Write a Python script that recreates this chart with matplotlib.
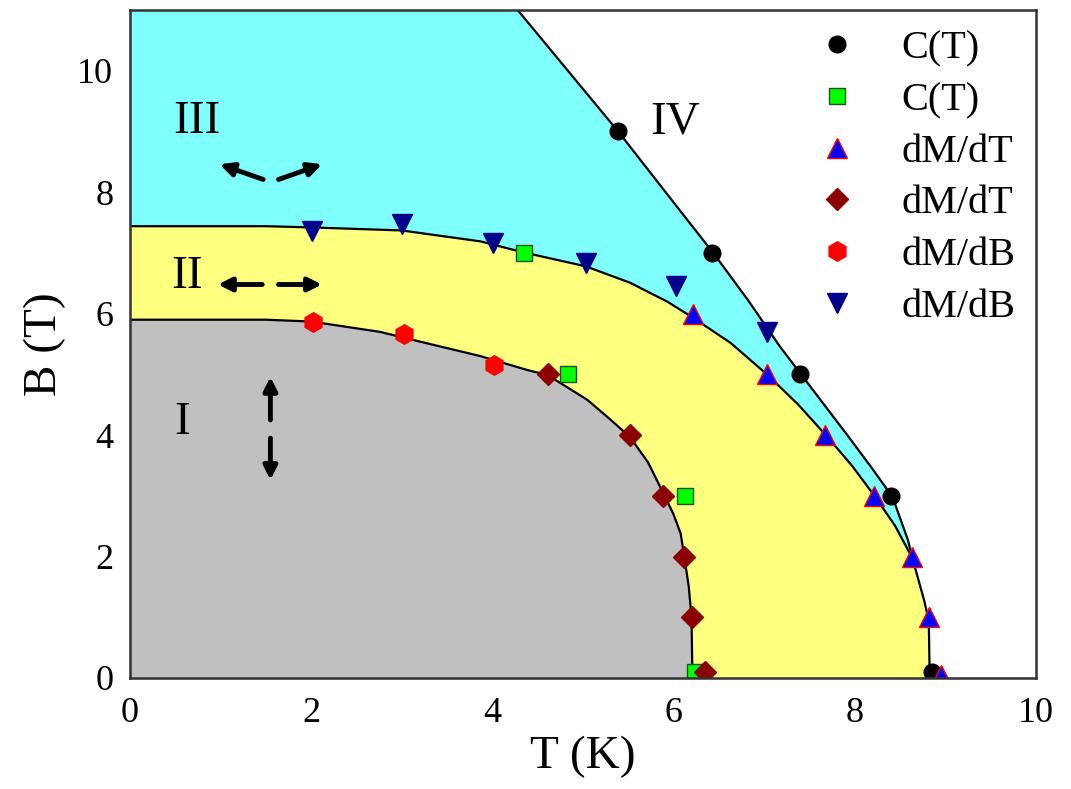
import matplotlib.pyplot as plt
import numpy as np

plt.rcParams['font.family'] = ['Liberation Serif', 'DejaVu Serif']

# data points (T in K, B in T)
ct_black_T = [5.39, 6.43, 7.40, 8.40, 8.86]
ct_black_B = [9.0, 7.0, 5.0, 3.0, 0.1]

ct_green_T = [4.35, 4.84, 6.13, 6.24]
ct_green_B = [7.0, 5.0, 3.0, 0.1]

dmdt_up_T = [6.22, 7.03, 7.67, 8.22, 8.64, 8.82, 8.95]
dmdt_up_B = [6.0, 5.0, 4.0, 3.0, 2.0, 1.0, 0.05]

dmdt_dia_T = [4.61, 5.52, 5.89, 6.12, 6.21, 6.35]
dmdt_dia_B = [5.0, 4.0, 3.0, 2.0, 1.0, 0.1]

dmdb_hex_T = [2.02, 3.02, 4.02]
dmdb_hex_B = [5.87, 5.67, 5.16]

dmdb_down_T = [2.01, 3.0, 4.01, 5.03, 6.03, 7.03]
dmdb_down_B = [7.36, 7.47, 7.16, 6.83, 6.45, 5.70]

# phase boundaries
b1_T = [0, 1.5, 2.0, 2.76, 3.2, 3.87, 4.39, 4.61, 5.05, 5.27, 5.52, 5.72, 5.89, 6.0, 6.08, 6.12, 6.17, 6.2, 6.21]
b1_B = [5.9, 5.9, 5.87, 5.70, 5.54, 5.30, 5.07, 4.99, 4.58, 4.30, 3.97, 3.55, 3.04, 2.7, 2.38, 2.0, 1.5, 1.0, 0]

b2_T = [0, 1.5, 2.0, 3.0, 3.87, 4.34, 5.03, 5.52, 5.93, 6.22, 6.63, 7.04, 7.38, 7.70, 7.97, 8.23, 8.45, 8.64, 8.77, 8.82, 8.83]
b2_B = [7.44, 7.44, 7.42, 7.37, 7.19, 7.01, 6.78, 6.51, 6.20, 5.93, 5.52, 4.99, 4.50, 3.97, 3.50, 2.98, 2.50, 1.97, 1.27, 0.94, 0]

b3_T = [4.28, 5.39, 6.15, 6.44, 6.82, 7.18, 7.43, 7.68, 7.93, 8.18, 8.42, 8.59, 8.64]
b3_B = [11.0, 9.0, 7.55, 7.0, 6.23, 5.45, 4.96, 4.47, 3.98, 3.48, 2.98, 2.27, 1.97]

fig = plt.figure(figsize=(10.71, 7.89), dpi=100)
ax = fig.add_axes([0.1214, 0.1407, 0.8456, 0.8466])

# fills: cyan envelope, then yellow, then gray
env_T = [0] + b3_T + [t for t, b in zip(b2_T, b2_B) if b < 1.97] + [0]
env_B = [11.0] + b3_B + [b for b in b2_B if b < 1.97] + [0]
ax.fill(env_T, env_B, color='#80ffff', lw=0, zorder=1)
ax.fill(b2_T + [0], b2_B + [0], color='#ffff80', lw=0, zorder=2)
ax.fill(b1_T + [0], b1_B + [0], color='#c0c0c0', lw=0, zorder=3)

ax.plot(b1_T, b1_B, color='black', lw=1.6, zorder=4)
ax.plot(b2_T, b2_B, color='black', lw=1.6, zorder=4)
ax.plot(b3_T, b3_B, color='black', lw=1.6, zorder=4)

ax.plot(ct_black_T, ct_black_B, 'o', color='black', ms=12, ls='none', label='C(T)', zorder=6)
ax.plot(ct_green_T, ct_green_B, 's', mfc='#00ff00', mec='#205020', mew=1, ms=11, ls='none', label='C(T)', zorder=6)
ax.plot(dmdt_up_T, dmdt_up_B, '^', mfc='#0000ff', mec='#ff0000', mew=1, ms=14, ls='none', label='dM/dT', zorder=6)
ax.plot(dmdt_dia_T, dmdt_dia_B, 'D', color='#8b0000', ms=11, ls='none', label='dM/dT', zorder=6)
ax.plot(dmdb_hex_T, dmdb_hex_B, 'h', color='#ff0000', ms=14, ls='none', label='dM/dB', zorder=6)
ax.plot(dmdb_down_T, dmdb_down_B, 'v', color='#00008b', ms=14, ls='none', label='dM/dB', zorder=6)

# region labels
ax.text(0.74, 9.16, 'III', fontsize=34, ha='center', va='center', zorder=7)
ax.text(0.63, 6.61, 'II', fontsize=34, ha='center', va='center', zorder=7)
ax.text(0.57, 4.2, 'I', fontsize=34, ha='center', va='center', zorder=7)
ax.text(6.02, 9.16, 'IV', fontsize=34, ha='center', va='center', zorder=7)

# moment arrows
arr = dict(arrowstyle='-|>,head_length=0.8,head_width=0.4', color='black', lw=3.5, shrinkA=0, shrinkB=0)
for (x0, y0), (x1, y1) in [((1.47, 8.21), (0.99, 8.46)), ((1.64, 8.21), (2.12, 8.46)),
                           ((1.46, 6.48), (0.97, 6.48)), ((1.64, 6.48), (2.12, 6.48)),
                           ((1.55, 4.25), (1.55, 4.96)), ((1.55, 3.95), (1.55, 3.26))]:
    ax.annotate('', xy=(x1, y1), xytext=(x0, y0), arrowprops=arr, zorder=7)

ax.set_xlim(0, 10)
ax.set_ylim(0, 11)
ax.set_xticks([0, 2, 4, 6, 8, 10])
ax.set_yticks([0, 2, 4, 6, 8, 10])
ax.tick_params(length=0, labelsize=26, pad=12)
ax.tick_params(axis='x', pad=14)
for s in ax.spines.values():
    s.set_linewidth(1.8)
    s.set_color('#333333')
    s.set_zorder(8)

ax.set_xlabel('T (K)', fontsize=34, labelpad=4)
ax.set_ylabel('B (T)', fontsize=34, labelpad=8)

ax.legend(loc='upper right', bbox_to_anchor=(1.0, 1.0), frameon=False, fontsize=29,
          labelspacing=0.36, handletextpad=0.6, borderaxespad=0.1, markerscale=1.0)

plt.savefig('out.png', dpi=100)
